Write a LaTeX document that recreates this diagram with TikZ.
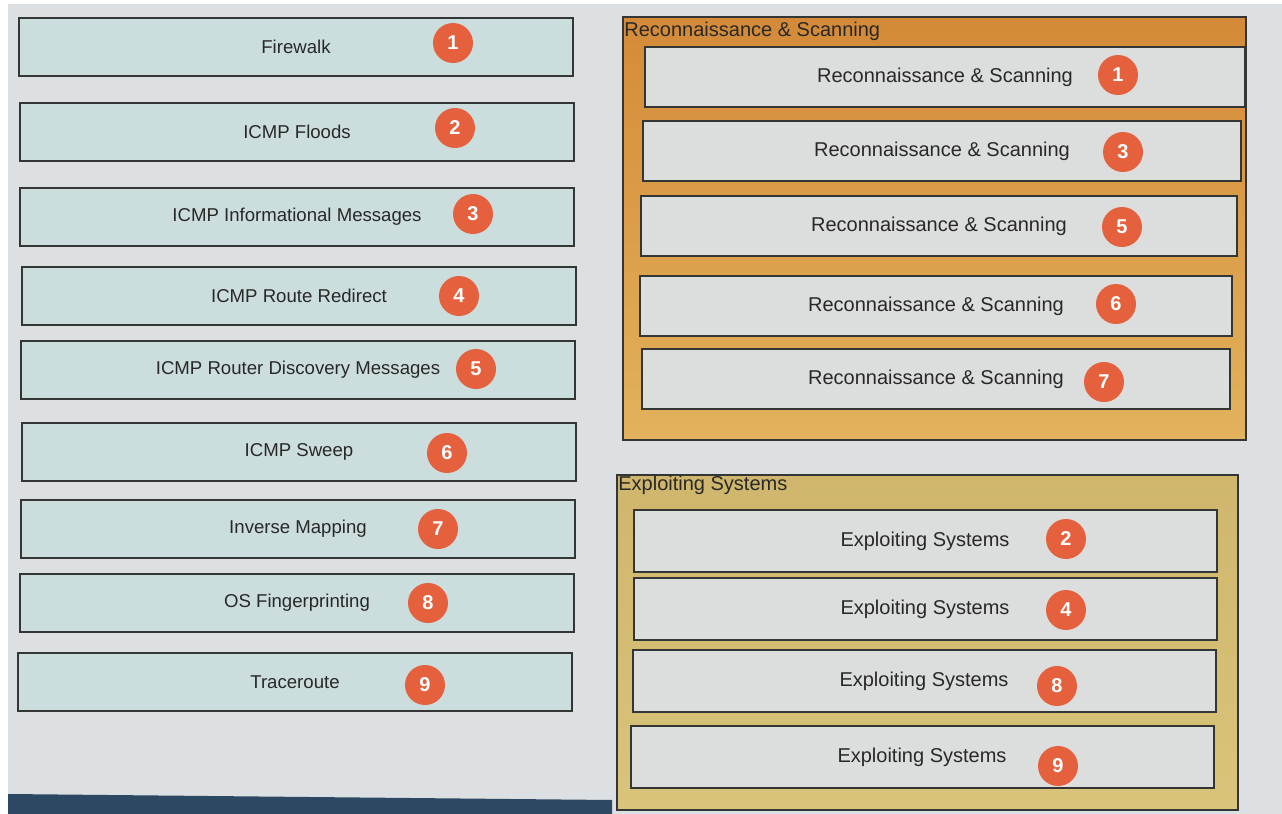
\documentclass[tikz,border=0pt]{standalone}
\usepackage{fontspec}
\setmainfont{Liberation Sans}
\usetikzlibrary{positioning}
\definecolor{screen}{RGB}{221,224,226}
\definecolor{bezel}{RGB}{44,72,98}
\definecolor{tealgrey}{RGB}{204,221,221}
\definecolor{itemgrey}{RGB}{220,222,221}
\definecolor{boxline}{RGB}{52,54,54}
\definecolor{reconTop}{RGB}{212,138,56}
\definecolor{reconBot}{RGB}{226,178,92}
\definecolor{exploitTop}{RGB}{207,182,108}
\definecolor{exploitBot}{RGB}{216,196,122}
\definecolor{badge}{RGB}{229,96,61}
\definecolor{inktext}{RGB}{40,40,40}

\begin{document}
\begin{tikzpicture}[x=0.5pt,y=-0.5pt,font=\fontsize{10}{12}\selectfont,text=inktext]
		\tikzset{
			leftbox/.style={draw=boxline,line width=1pt,fill=tealgrey,minimum width=277pt,minimum height=29pt,inner sep=0pt,font=\fontsize{9.3}{11}\selectfont},
			rightbox/.style={draw=boxline,line width=1pt,fill=itemgrey,minimum height=30pt,inner sep=0pt},
			group/.style={draw=boxline,line width=1pt,inner sep=0pt},
			grouptitle/.style={anchor=north west,inner sep=1pt},
			num/.style={circle,fill=badge,text=white,font=\fontsize{10}{12}\selectfont\bfseries,minimum size=20pt,inner sep=0pt}
		}
		\useasboundingbox (0,0) rectangle (1282,814);
		\fill[white] (0,0) rectangle (1282,814);
		\fill[screen] (8,4) rectangle (1282,814);
		\fill[bezel] (8,794) -- (612,800) -- (612,814) -- (8,814) -- cycle;
		% techniques
		\node(fw)[leftbox] at (296,47) {Firewalk};
		\node(floods)[leftbox] at (297,132) {ICMP Floods};
		\node(info)[leftbox] at (297,217) {ICMP Informational Messages};
		\node(redir)[leftbox] at (299,296) {ICMP Route Redirect};
		\node(disc)[leftbox] at (298,370) {ICMP Router Discovery Messages};
		\node(sweep)[leftbox] at (299,452) {ICMP Sweep};
		\node(inv)[leftbox] at (298,529) {Inverse Mapping};
		\node(osfp)[leftbox] at (297,603) {OS Fingerprinting};
		\node(trace)[leftbox] at (295,682) {Traceroute};
		\node(n1)[num] at (453,43) {1};
		\node(n2)[num] at (455,128) {2};
		\node(n3)[num] at (473,214) {3};
		\node(n4)[num] at (459,296) {4};
		\node(n5)[num] at (476,369) {5};
		\node(n6)[num] at (447,453) {6};
		\node(n7)[num] at (438,529) {7};
		\node(n8)[num] at (428,603) {8};
		\node(n9)[num] at (425,685) {9};
		% reconnaissance group
		\node(recon)[group,top color=reconTop,bottom color=reconBot,minimum width=311.5pt,minimum height=211.5pt] at (934.5,228.5) {};
		\node(recontitle)[grouptitle,yshift=-2pt] at (recon.north west) {Reconnaissance \& Scanning};
		\node(ra)[rightbox,minimum width=300pt] at (945,77) {Reconnaissance \& Scanning};
		\node(rb)[rightbox,minimum width=299pt] at (942,151) {Reconnaissance \& Scanning};
		\node(rc)[rightbox,minimum width=298pt] at (939,226) {Reconnaissance \& Scanning};
		\node(rd)[rightbox,minimum width=296pt] at (936,306) {Reconnaissance \& Scanning};
		\node(re)[rightbox,minimum width=294pt] at (936,379) {Reconnaissance \& Scanning};
		\node(ra1)[num] at (1118,75) {1};
		\node(rb3)[num] at (1123,152) {3};
		\node(rc5)[num] at (1122,227) {5};
		\node(rd6)[num] at (1116,304) {6};
		\node(re7)[num] at (1104,382) {7};
		% exploiting group
		\node(expl)[group,top color=exploitTop,bottom color=exploitBot,minimum width=310.5pt,minimum height=167.5pt] at (927.5,642.5) {};
		\node(expltitle)[grouptitle] at (expl.north west) {Exploiting Systems};
		\node(ea)[rightbox,minimum width=291.5pt,minimum height=31pt] at (925,541) {Exploiting Systems};
		\node(eb)[rightbox,minimum width=291.5pt,minimum height=31pt] at (925,609) {Exploiting Systems};
		\node(ec)[rightbox,minimum width=291.5pt,minimum height=31pt] at (924,681) {Exploiting Systems};
		\node(ed)[rightbox,minimum width=291.5pt,minimum height=31pt] at (922,757) {Exploiting Systems};
		\node(ea2)[num] at (1066,539) {2};
		\node(eb4)[num] at (1066,610) {4};
		\node(ec8)[num] at (1057,686) {8};
		\node(ed9)[num] at (1058,766) {9};
\end{tikzpicture}
\end{document}
